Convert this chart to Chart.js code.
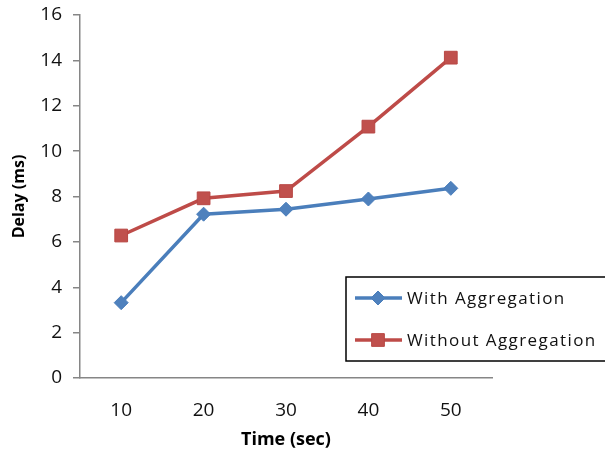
<!DOCTYPE html>
<html>
<head>
<meta charset="utf-8">
<script src="https://cdn.jsdelivr.net/npm/chart.js@4.4.1/dist/chart.umd.min.js"></script>
<style>
  html, body { margin: 0; padding: 0; background: #fff; }
  #wrap { position: relative; width: 605px; height: 451px; }
</style>
</head>
<body>
<div id="wrap"><canvas id="c" width="605" height="451"></canvas></div>
<script>
const categories = ['10', '20', '30', '40', '50'];
const withAggregation = [3.32, 7.22, 7.44, 7.89, 8.36];
const withoutAggregation = [6.28, 7.92, 8.24, 11.08, 14.12];
const seriesNames = ['With Aggregation', 'Without Aggregation'];
const xTitle = 'Time (sec)';
const yTitle = 'Delay (ms)';

const FONT = "'Open Sans', 'Liberation Sans', sans-serif";

const legendPlugin = {
  id: 'boxLegend',
  afterDraw(chart) {
    const ctx = chart.ctx;
    ctx.save();
    ctx.lineWidth = 1.5;
    ctx.strokeStyle = '#000';
    ctx.strokeRect(346, 277, 290, 84);
    const rows = [298, 340];
    chart.data.datasets.forEach((ds, i) => {
      const y = rows[i];
      ctx.strokeStyle = ds.borderColor;
      ctx.lineWidth = ds.borderWidth;
      ctx.beginPath();
      ctx.moveTo(355, y);
      ctx.lineTo(402, y);
      ctx.stroke();
      ctx.fillStyle = ds.pointBackgroundColor;
      ctx.strokeStyle = ds.pointBorderColor;
      ctx.lineWidth = 1;
      Chart.helpers.drawPoint(ctx, { pointStyle: ds.pointStyle, radius: ds.pointRadius, rotation: 0, borderWidth: 1 }, 378, y);
      ctx.fillStyle = '#111';
      ctx.font = '17px ' + FONT;
      ctx.letterSpacing = '1.4px';
      ctx.textBaseline = 'middle';
      ctx.textAlign = 'left';
      ctx.fillText(ds.label, 407, y + 1);
    });
    ctx.restore();
  }
};

new Chart(document.getElementById('c'), {
  type: 'line',
  data: {
    labels: categories,
    datasets: [
      {
        label: seriesNames[0],
        data: withAggregation,
        borderColor: '#4A7EBB',
        backgroundColor: '#4F81BD',
        pointBackgroundColor: '#4F81BD',
        pointBorderColor: '#4A7EBB',
        pointStyle: 'rectRot',
        pointRadius: 7,
        pointBorderWidth: 1,
        borderWidth: 3.5,
        tension: 0
      },
      {
        label: seriesNames[1],
        data: withoutAggregation,
        borderColor: '#BE4B48',
        backgroundColor: '#C0504D',
        pointBackgroundColor: '#C0504D',
        pointBorderColor: '#B84744',
        pointStyle: 'rect',
        pointRadius: 9,
        pointBorderWidth: 1,
        borderWidth: 3.5,
        tension: 0
      }
    ]
  },
  options: {
    responsive: false,
    animation: false,
    events: [],
    layout: { padding: { top: 15, right: 113, bottom: 0, left: 0 } },
    plugins: { legend: { display: false }, tooltip: { enabled: false } },
    scales: {
      x: {
        offset: true,
        grid: { display: false },
        border: { display: true, color: '#868686', width: 1.5 },
        ticks: { color: '#111', font: { family: FONT, size: 19 }, padding: 13, maxRotation: 0 },
        title: { display: true, text: xTitle, color: '#000', font: { family: FONT, size: 18, weight: 'bold' }, padding: { top: 0, bottom: 0 } },
        afterFit(s) { s.height = 73; s.paddingLeft = 0; s.paddingRight = 0; }
      },
      y: {
        min: 0,
        max: 16,
        ticks: { stepSize: 2, color: '#111', font: { family: FONT, size: 19 }, padding: 11 },
        grid: { drawOnChartArea: false, drawTicks: true, tickLength: 7, color: '#868686', lineWidth: 1.5 },
        border: { display: true, color: '#868686', width: 1.5 },
        title: { display: true, text: yTitle, color: '#000', font: { family: FONT, size: 16, weight: 'bold' }, padding: { top: 10, bottom: 0 } },
        afterFit(s) { s.width = 80; s.paddingTop = 0; s.paddingBottom = 0; }
      }
    }
  },
  plugins: [legendPlugin]
});
</script>
</body>
</html>
